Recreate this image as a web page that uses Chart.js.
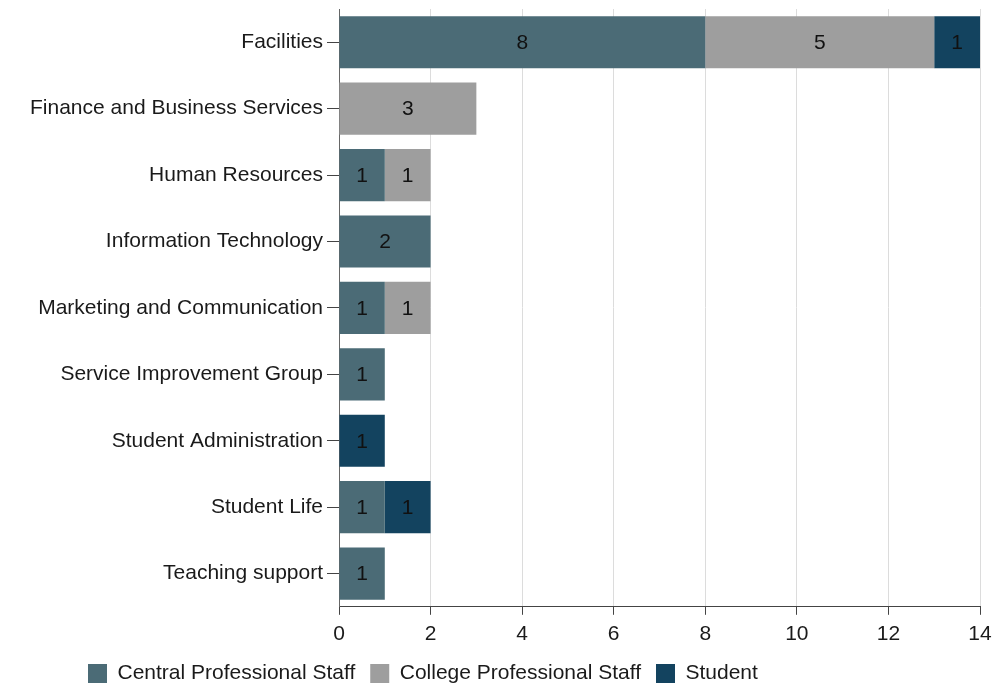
<!DOCTYPE html>
<html>
<head>
<meta charset="utf-8">
<script src="https://cdn.jsdelivr.net/npm/chart.js@4.4.1/dist/chart.umd.min.js"></script>
<style>
    html, body { margin: 0; padding: 0; background: #fff; }
    #wrap { width: 1005px; height: 688px; }
</style>
</head>
<body>
<div id="wrap"><canvas id="barChart"></canvas></div>
<script>
const categories = [
    "Facilities",
    "Finance and Business Services",
    "Human Resources",
    "Information Technology",
    "Marketing and Communication",
    "Service Improvement Group",
    "Student Administration",
    "Student Life",
    "Teaching support"
];
const centralStaff = [8, 0, 1, 2, 1, 1, 0, 1, 1];
const collegeStaff = [5, 3, 1, 0, 1, 0, 0, 0, 0];
const students = [1, 0, 0, 0, 0, 0, 1, 1, 0];
const xTicks = [0, 2, 4, 6, 8, 10, 12, 14];

const FONT = '"Liberation Sans", Arial, sans-serif';

// Writes each non-zero value in the middle of its bar segment
const barValueLabels = {
    id: 'barValueLabels',
    afterDatasetsDraw(chart) {
        const ctx = chart.ctx;
        ctx.save();
        ctx.font = '21px ' + FONT;
        ctx.fillStyle = '#111';
        ctx.textAlign = 'center';
        ctx.textBaseline = 'middle';
        chart.data.datasets.forEach((ds, i) => {
            const meta = chart.getDatasetMeta(i);
            meta.data.forEach((bar, j) => {
                const v = ds.data[j];
                if (!v) return;
                ctx.fillText(String(v), (bar.x + bar.base) / 2, bar.y + 1);
            });
        });
        ctx.restore();
    }
};

// Legend sits further right and a bit higher than Chart.js would put it
const legendNudge = {
    id: 'legendNudge',
    afterLayout(chart) {
        if (!chart.legend) return;
        chart.legend.left = 73;
        chart.legend.top -= 6;
    }
};

const ctx = document.getElementById('barChart').getContext('2d');
new Chart(ctx, {
    type: 'bar',
    data: {
        labels: categories,
        datasets: [
            { label: 'Central Professional Staff', data: centralStaff, backgroundColor: '#4b6b76' },
            { label: 'College Professional Staff', data: collegeStaff, backgroundColor: '#9e9e9e' },
            { label: 'Student', data: students, backgroundColor: '#13435f' }
        ]
    },
    options: {
        indexAxis: 'y',
        responsive: true,
        maintainAspectRatio: false,
        animation: false,
        barPercentage: 0.785,
        categoryPercentage: 1,
        layout: { padding: { top: 9, right: 25, left: 0, bottom: -12 } },
        plugins: {
            tooltip: { enabled: false },
            legend: {
                position: 'bottom',
                align: 'start',
                labels: {
                    boxWidth: 19,
                    boxHeight: 19,
                    padding: 15,
                    color: '#1a1a1a',
                    font: { size: 21, family: FONT }
                }
            }
        },
        scales: {
            x: {
                stacked: true,
                min: 0,
                max: 14,
                afterBuildTicks: axis => { axis.ticks = xTicks.map(v => ({ value: v })); },
                grid: { color: '#dcdcdc', tickColor: '#444', tickLength: 8 },
                border: { color: '#444', width: 1 },
                ticks: {
                    color: '#1a1a1a',
                    padding: 7,
                    font: { size: 21, family: FONT }
                }
            },
            y: {
                stacked: true,
                afterFit: scale => {
                    scale.width = 339;
                    scale.paddingTop = 0;
                    scale.paddingBottom = 0;
                },
                grid: { offset: false, drawOnChartArea: false, tickColor: '#444', tickLength: 12 },
                border: { color: '#666', width: 1 },
                ticks: {
                    color: '#1a1a1a',
                    padding: 4,
                    font: { size: 21, family: FONT }
                }
            }
        }
    },
    plugins: [barValueLabels, legendNudge]
});
</script>
</body>
</html>
